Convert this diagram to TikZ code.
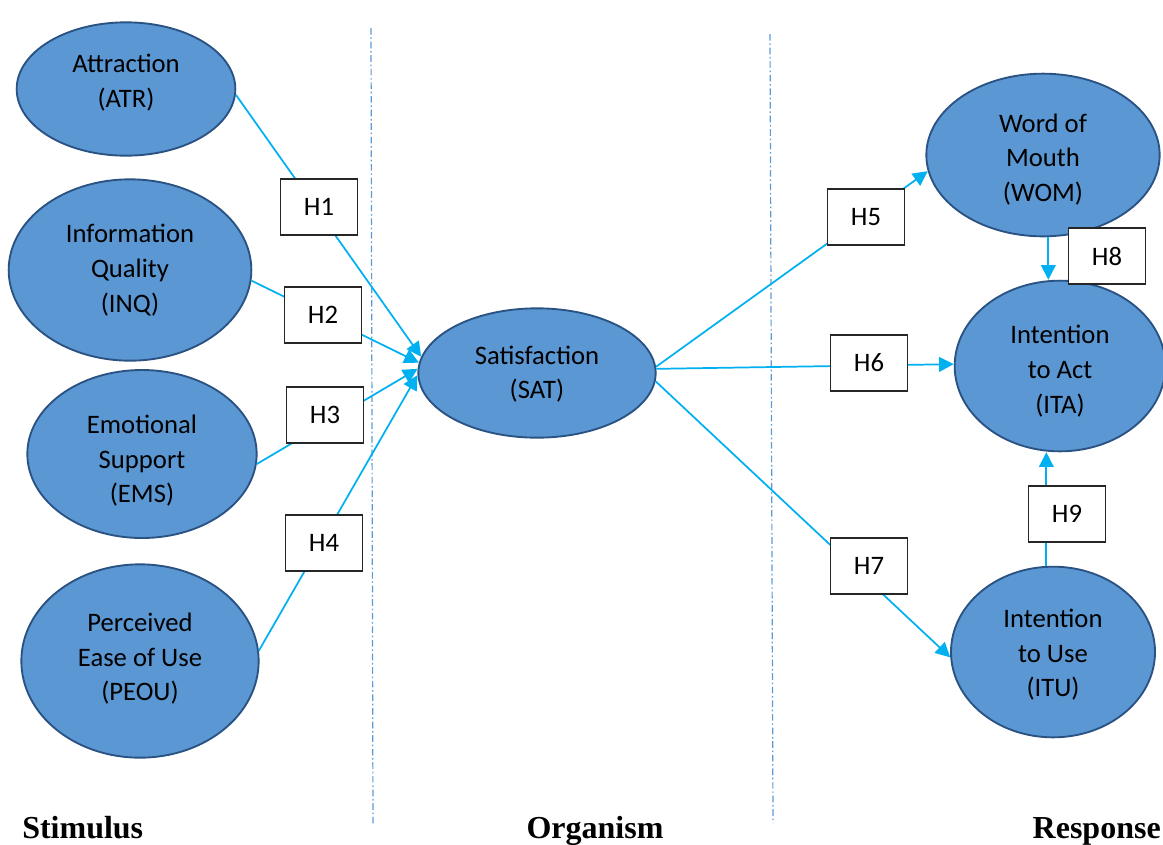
\documentclass[tikz,border=0pt]{standalone}
\usepackage{fontspec}
\setmainfont{Carlito}
\newfontfamily\stagefont{Liberation Serif}
\usepackage{xcolor}
\usetikzlibrary{shapes.geometric, arrows.meta, positioning}

\definecolor{constructfill}{HTML}{5B97D2}
\definecolor{constructline}{HTML}{2A5283}
\definecolor{linkblue}{HTML}{00B0F0}
\definecolor{dividerblue}{HTML}{5B9BD5}

\tikzset{
  construct/.style={ellipse, draw=constructline, line width=1.4pt, fill=constructfill, inner sep=0pt},
  ctext/.style={align=center, inner sep=0pt, font=\fontsize{20pt}{26pt}\selectfont},
  hyp/.style={rectangle, draw=black!85, line width=1pt, fill=white, inner sep=0pt,
    minimum width=57.75pt, minimum height=42pt, font=\fontsize{20pt}{24pt}\selectfont},
  link/.style={draw=linkblue, line width=1.3pt, -{Triangle[length=11pt, width=11pt]}},
  divider/.style={draw=dividerblue, line width=0.9pt, dash pattern=on 5pt off 2pt on 1.2pt off 2pt},
  stage/.style={font=\stagefont\bfseries\fontsize{24pt}{28pt}\selectfont}
}

\begin{document}
\begin{tikzpicture}[x=0.75pt, y=-0.75pt]
\useasboundingbox (0,0) rectangle (1163,844);

% Stage dividers
\draw[divider] (371,28) -- (373,826);
\draw[divider] (770,34) -- (773,823);

% Stimulus
\node[construct, minimum width=164pt, minimum height=100pt,
  label={[ctext, yshift=4.9pt]center:{Attraction\\(ATR)}}] (atr) at (126,89) {};
\node[construct, minimum width=182pt, minimum height=136pt,
  label={[ctext]center:{Information\\Quality\\(INQ)}}] (inq) at (130,270) {};
\node[construct, minimum width=172pt, minimum height=126pt,
  label={[ctext, yshift=-5pt]center:{Emotional\\Support\\(EMS)}}] (ems) at (142,454) {};
\node[construct, minimum width=178pt, minimum height=145pt,
  label={[ctext, yshift=1.7pt]center:{Perceived\\Ease of Use\\(PEOU)}}] (peou) at (140,661) {};

% Organism
\node[construct, minimum width=178pt, minimum height=97pt,
  label={[ctext, yshift=-0.75pt]center:{Satisfaction\\(SAT)}}] (sat) at (537,373) {};

% Response
\node[construct, minimum width=175pt, minimum height=122pt,
  label={[ctext, yshift=-3.2pt]center:{Word of\\Mouth\\(WOM)}}] (wom) at (1043,155) {};
\node[construct, minimum width=158pt, minimum height=128pt,
  label={[ctext, yshift=-3.75pt]center:{Intention\\to Act\\(ITA)}}] (ita) at (1060,366) {};
\node[construct, minimum width=153pt, minimum height=128pt,
  label={[ctext, yshift=-2pt]center:{Intention\\to Use\\(ITU)}}] (itu) at (1053,652) {};

% Paths
\draw[link] (atr.-3) -- (sat.172);
\draw[link] (inq.-5) -- (sat.175);
\draw[link] (ems.-5) -- (sat.178);
\draw[link] (peou.5) -- (sat.181);
\draw[link] (sat.3) -- (wom.188);
\draw[link] (sat.2) -- (ita.179);
\draw[link] (sat.-4) -- (itu.183);
\draw[link] ([xshift=4pt]wom.south) -- ([xshift=4pt]wom.south |- ita.north);
\draw[link] ([xshift=-5pt]itu.north) -- ([xshift=-5pt]itu.north |- ita.south);

% Hypotheses
\node[hyp] (h1) at (319,207) {H1};
\node[hyp] (h2) at (323,315) {H2};
\node[hyp] (h3) at (325,415) {H3};
\node[hyp] (h4) at (324,543) {H4};
\node[hyp] (h5) at (866,217) {H5};
\node[hyp] (h6) at (869,363) {H6};
\node[hyp] (h7) at (869,566) {H7};
\node[hyp] (h8) at (1107,256) {H8};
\node[hyp] (h9) at (1067,514) {H9};

% Stage labels
\node[stage, anchor=base west, inner sep=0pt] (stim) at (22,838) {Stimulus};
\node[stage, anchor=base, inner sep=0pt] (org) at (595,838) {Organism};
\node[stage, anchor=base east, inner sep=0pt] (resp) at (1161,838) {Response};
\end{tikzpicture}
\end{document}
